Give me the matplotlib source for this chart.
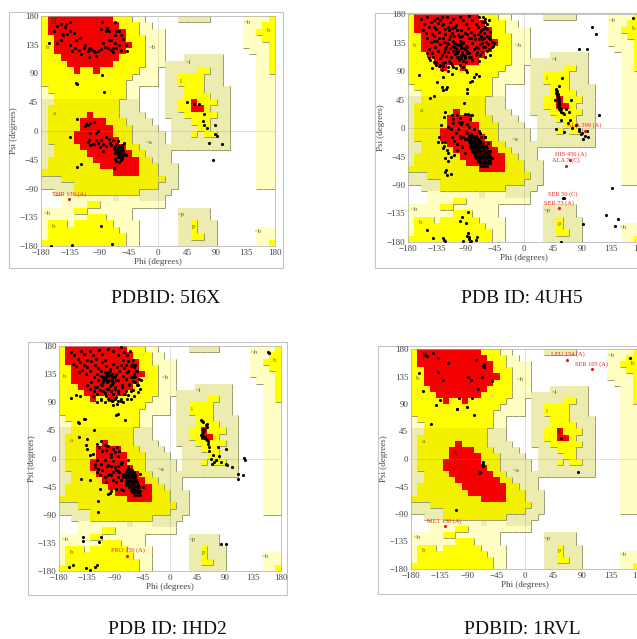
import matplotlib
matplotlib.use('Agg')
import matplotlib.pyplot as plt
import numpy as np
from matplotlib.collections import LineCollection
from matplotlib.colors import ListedColormap
from matplotlib.patches import Rectangle

plt.rcParams['font.family'] = ['Liberation Serif', 'DejaVu Sans']

# region map, 10 degree cells, top row is psi 170..180, left column is phi -180..-170
# . white, p pale, q dark pale, y yellow, z dark yellow, r red
region_rows = [
    "yrrrrrrrrrryyypp.....qqqqq.....ppppy",
    "yrrrrrrrrrrryyypp..............pppyy",
    "yrrrrrrrrrrrryypppp............ppyyy",
    "yyrrrrrrrrrrryyyppp............pppyy",
    "yyrrrrrrrrrrrryyppp............ppppy",
    "yyrrrrrrrrrrryyyppp.............pppy",
    "yyyrrrrrrrrryyyyppp...qqqqqq.....ppy",
    "yyyyrrrrrrryyyyypppqqqqqqqqq.....ppy",
    "yyyyyryyryyyyyyppp.qqqqqyyqq.....ppy",
    "yyyyyyyyyyyyyypppp.qqyyyyqqq.....ppp",
    "yyyyyyyyyyyyyppppp.qqyyyyqqq.....ppp",
    "pyyyyyyyyyyyypp....qqqyyyqqqq....ppp",
    "ppyyyyyyyyyyypp....qqqyyyyqqq....ppp",
    "qqzzzzzzzzzzqqq....qqyyryyyqq....ppp",
    "qzzzzzzzzzzzqqq....qqyyrryqqq....ppp",
    "qzzzzzzrzzzzqqqq...qqqyyyyyqq....ppp",
    "qzzzzzrrrrzzzqqqq...qqqyyyqqq....ppp",
    "qzzzzzrrrrrzzzqqqq..qqqqyyqqq....ppp",
    "qzzzzrrrrrrzzzqqqqq.qqqyqyyqq....ppp",
    "qzzzzrrrrrrrzzqqqqq.qqqqqqqqq....ppp",
    "qqzzzzrrrrrrrzzqqqqqqqqqqqqqq....ppp",
    "qqzzzzzrrrrrrrzzqqqq.............ppp",
    "qzzzzzzzrrrrrrrzzqqq.............ppp",
    "qzzzzzzzzrrrrrrzzzqqq............ppp",
    "zzzzzzzzzzzrrrrzzzqqq............ppp",
    "qqqzzzzzzzzzzzzzzzzqq............ppp",
    "qqqqqzzzzzzzzzzzzzqqq............ppp",
    "..qqqzzzzzzzzzzqqqqq................",
    "...ppppppppqpppqqqq.................",
    "...ppppyypppppppppp.................",
    "pppppyyppppppp.......qqqqq..........",
    "pppppppyyypppp.......qqqqq..........",
    "pyyypyyyyyypppp......qqyqqq.........",
    "pyyyyyyyyyyyppp......qqyqqq......ppp",
    "pyyyyyyyyyyyypp......qqyyqq......ppp",
    "yyyyyyyyyyyyypp......qqqqqq......ppy",
]
region_codes = '.pqyzr'
region_colors = ['#ffffff', '#ffffc4', '#ecebb0', '#ffff00', '#f3f000', '#f40000']
region_levels = {'.': 0, 'p': 1, 'q': 1, 'y': 2, 'z': 2, 'r': 3}

ticks = [-180, -135, -90, -45, 0, 45, 90, 135, 180]

# phi / psi
phi_5i6x = [-155,-150,-143,-160,-148,-141,-136,-140,-146,-150,-155,-136,-130,-126,-135,-133,-128,-122,-118,-114,-120,-112,-108,
            -106,-104,-101,-99,-97,-106,-93,-95,-88,-85,-81,-77,-73,-70,-66,-64,-60,-57,-54,-50,-48,-57,-66,-73,-76,-80,-78,-76,
            -88,-86,-66,-64,-60,-72,-69,-167,
            -126,-124,-83,-86,-124,-136,-119,-124,-68,-88,-133,-164,-71,
            -111,-108,-105,-112,-104,-98,-93,-96,-108,-100,-92,-88,-84,-80,-104,-106,-98,-96,-90,-85,-80,-76,-74,-70,-72,-68,-66,
            -64,-62,-60,-58,-56,-54,-52,-68,-66,-64,-62,-60,-58,-56,-54,-66,-64,-62,-60,-58,-56,-54,-64,-62,-60,-58,-56,-52,-60,
            -58,-56,-50,-66,-64,-60,-57,
            45,55,63,70,69,70,75,88,90,88,79,98,84,
            -62,-60,-58,-56,-61,-59,-57,-55,-60,-58,-56,-59,-57,-55,-58,-56]
psi_5i6x = [165,168,162,157,152,168,170,152,150,143,138,156,153,142,135,125,130,127,120,130,146,135,125,
            128,130,126,125,123,116,125,118,128,138,132,130,126,123,137,130,135,150,144,134,125,126,150,143,143,157,161,157,
            160,170,171,156,156,142,130,137,
            75,74,61,87,19,-10,-51,-57,-58,-148,-178,-180,-177,
            11,10,12,8,-3,14,0,-3,-17,-20,-18,-14,-20,-9,-22,-14,-20,-14,-25,-32,-24,-12,-18,-14,-22,-27,-35,
            -20,-16,-24,-28,-22,-32,-18,-28,-24,-32,-27,-34,-25,-30,-36,-28,-34,-39,-37,-33,-30,-38,-32,-41,-34,-30,-27,-36,-40,
            -38,-42,-37,-44,-47,-48,-46,
            46,43,42,26,16,10,4,9,-8,-4,-18,-21,-46,
            -30,-32,-30,-32,-35,-35,-35,-35,-38,-38,-38,-41,-41,-41,-33,-36]

points_4uh5 = [
    (-160,172),(-155,165),(-150,175),(-145,168),(-140,160),(-135,174),(-130,170),(-125,165),(-120,176),(-115,168),(-110,172),
    (-105,163),(-100,175),(-95,170),(-90,165),(-85,177),(-80,170),(-75,164),(-70,175),(-65,168),(-60,172),
    (-157,155),(-152,150),(-147,160),(-142,148),(-137,156),(-132,152),(-127,162),(-122,148),(-117,155),(-112,150),(-107,160),
    (-102,147),(-97,155),(-92,150),(-87,158),(-82,152),(-77,147),(-72,160),(-67,155),(-62,150),(-57,145),(-52,152),
    (-150,142),(-145,136),(-140,145),(-135,138),(-130,132),(-125,142),(-120,135),(-115,146),(-110,138),(-105,132),(-100,143),
    (-95,136),(-90,130),(-85,142),(-80,135),(-75,128),(-70,140),(-65,134),(-60,128),(-55,142),(-50,136),(-48,130),
    (-148,124),(-143,118),(-138,128),(-133,122),(-128,115),(-123,125),(-118,120),(-113,112),(-108,128),(-103,122),(-98,116),
    (-93,126),(-88,118),(-83,112),(-78,124),(-73,120),(-68,115),(-63,128),(-58,122),(-53,115),(-49,128),(-46,134),
    (-146,108),(-141,112),(-136,105),(-131,110),(-126,103),(-121,114),(-116,106),(-111,100),(-108,128),(-106,122),(-104,118),
    (-102,112),(-100,132),(-98,126),(-96,120),(-94,115),(-92,110),(-90,105),(-85,112),(-80,108),(-75,115),(-70,106),(-65,120),
    (-60,112),(-55,125),(-142,95),(-137,100),(-132,98),(-127,92),(-122,105),(-118,97),(-114,102),(-110,96),(-105,94),(-100,100),
    (-95,96),(-90,92),(-88,88),(-150,118),(-148,110),(-140,105),(-130,100),(-125,98),
    # thick part of the beta cloud
    (-112,130),(-109,134),(-106,127),(-103,131),(-100,137),(-97,130),(-94,134),(-91,124),(-88,128),(-110,122),(-107,117),
    (-104,112),(-101,108),(-98,110),(-95,106),(-92,114),(-89,122),(-86,118),(-115,127),(-118,133),(-121,128),(-124,120),
    (-72,148),(-69,152),(-66,146),(-63,156),(-60,160),(-57,156),(-54,146),(-62,142),(-59,136),(-56,132),(-52,140),(-65,140),
    (-68,133),(-71,127),(-61,168),(-58,165),(-55,170),(-64,175),(-140,170),(-128,176),(-118,160),(-112,158),(-104,154),(-96,146),
    (-88,148),(-82,142),(-76,140),(-134,166),(-122,156),(-140,138),(-132,142),(-124,136),(-116,141),(-108,146),
    (-163,84),(-125,80),(-118,90),(-112,86),(-135,72),(-128,65),(-125,60),(-121,62),(-119,64),(-146,47),(-140,50),(-122,25),
    (-111,21),(-101,10),(-87,22),(-82,20),(-78,80),(-80,75),(-84,72),(-88,62),(-75,85),(-70,82),(-88,55),(-93,40),
    (-124,18),(-129,5),(-132,-14),(-133,-22),(-128,-22),(-123,-22),(-124,-29),(-126,-32),(-119,-34),(-118,-39),(-122,-48),
    (-114,-46),(-118,-52),(-108,-43),(-122,-70),(-119,-74),(-121,-66),(-113,-72),
    (-110,14),(-104,20),(-100,16),(-96,10),(-92,22),(-88,6),(-84,14),(-80,20),(-118,2),(-114,-2),(-110,8),(-106,-8),(-102,-2),
    (-98,6),(-94,-14),(-90,-6),(-86,2),(-82,-10),(-78,-2),(-74,-12),(-70,-4),(-66,-14),(-112,-14),(-108,-20),(-104,-26),
    (-100,-16),(-96,-30),(-92,-18),(-88,-8),(-84,-20),(-80,-14),(-76,-26),(-72,-18),(-68,-8),(-64,-30),(-60,-14),(-56,-24),
    (-104,-34),(-100,-12),(-96,-28),(-92,-40),(-88,-18),(-84,-30),(-80,-36),(-76,-26),(-72,-34),(-68,-20),(-64,-44),(-60,-14),
    # solid part of the alpha cloud
    (-85,-12),(-81,-12),(-77,-12),(-86,-16),(-82,-16),(-78,-16),(-74,-16),(-85,-20),(-81,-20),(-77,-20),(-73,-20),(-69,-20),
    (-84,-24),(-80,-24),(-76,-24),(-72,-24),(-68,-24),(-64,-24),(-83,-28),(-79,-28),(-75,-28),(-71,-28),(-67,-28),(-63,-28),(-59,-28),
    (-82,-32),(-78,-32),(-74,-32),(-70,-32),(-66,-32),(-62,-32),(-58,-32),(-80,-36),(-76,-36),(-72,-36),(-68,-36),(-64,-36),(-60,-36),
    (-56,-36),(-52,-36),(-78,-40),(-74,-40),(-70,-40),(-66,-40),(-62,-40),(-58,-40),(-54,-40),(-76,-44),(-72,-44),(-68,-44),(-64,-44),
    (-60,-44),(-56,-44),(-52,-44),(-74,-48),(-70,-48),(-66,-48),(-62,-48),(-58,-48),(-54,-48),(-50,-48),(-72,-52),(-68,-52),(-64,-52),
    (-60,-52),(-56,-52),(-52,-52),(-68,-56),(-64,-56),(-60,-56),(-56,-56),(-52,-56),(-66,-60),(-62,-60),(-58,-60),
    (-87,-133),(-96,-140),(-99,-147),(-150,-161),(-141,-173),(-126,-173),(-124,-177),(-122,-179),(-87,-165),(-85,-172),
    (-83,-178),(-88,-170),(-86,-176),(-84,-180),(-90,-150),(-75,-177),(-73,-172),(-95,-178),
    (50,62),(51,58),(52,54),(53,50),(54,46),(55,42),(53,38),(52,34),(54,30),(56,28),(58,26),(60,24),(62,22),(55,66),(65,30),(70,26),
    (49,60),(50,56),(51,52),(52,48),(53,44),(54,40),(55,36),(56,32),(57,30),
    (48,44),(58,12),(68,8),(72,12),(50,-2),(62,-6),(75,0),(80,4),(85,-4),(88,-10),(90,-8),(95,-12),(100,-14),(98,-4),(92,-18),(85,-2),
    (59,79),(73,45),(169,173),(106,159),(112,149),(85,124),(98,125),(116,20),(137,-94),(128,-137),(146,-143),(141,-154),(91,-152),
    (60,-111),(62,-110),(58,-180),
]

points_1hd2 = [
    (-160,170),(-155,165),(-150,160),(-145,172),(-140,168),(-135,158),(-130,172),(-125,165),(-120,160),(-115,174),(-110,168),
    (-105,158),(-100,175),(-92,172),(-85,165),(-80,178),(-75,170),(-70,165),(-65,172),
    (-158,152),(-152,148),(-146,155),(-140,150),(-134,146),(-128,156),(-122,150),(-116,145),(-110,154),(-104,148),(-98,143),
    (-92,152),(-86,146),(-80,150),(-74,145),(-68,140),(-62,152),(-58,146),(-55,140),
    (-148,138),(-142,142),(-136,135),(-130,140),(-124,130),(-118,136),(-112,140),(-106,132),(-100,138),(-94,130),(-88,136),
    (-82,140),(-76,132),(-70,138),(-64,130),(-58,136),(-54,140),(-50,128),
    (-135,118),(-128,122),(-122,115),(-116,125),(-112,120),(-108,130),(-105,128),(-102,122),(-100,132),(-98,125),(-96,118),
    (-94,128),(-92,122),(-90,115),(-84,125),(-78,118),(-72,128),(-66,120),(-60,130),(-56,122),(-52,118),(-47,125),
    (-130,112),(-124,108),(-118,115),(-114,110),(-110,118),(-106,105),(-102,112),(-100,124),(-98,116),(-96,108),(-94,120),
    (-90,112),(-84,105),(-78,115),(-72,108),(-66,118),(-60,110),(-54,118),(-49,112),
    (-125,100),(-118,104),(-112,96),(-108,108),(-104,100),(-100,112),(-96,94),(-92,104),(-88,98),(-84,108),(-80,92),(-74,104),
    (-70,96),(-64,108),(-58,100),(-52,106),(-118,90),(-112,94),(-106,90),(-100,96),(-94,92),(-92,86),(-90,95),(-86,88),(-84,92),
    (-80,96),(-76,90),(-68,102),(-63,96),
    # thick part of the beta cloud
    (-112,132),(-109,126),(-106,138),(-103,130),(-100,126),(-97,134),(-94,124),(-91,130),(-88,126),(-108,122),(-104,126),(-102,136),
    (-98,140),(-94,136),(-90,132),(-60,158),(-56,150),(-64,148),(-68,156),(-72,150),(-76,158),(-56,130),(-60,124),
    (-161,97),(-153,102),(-146,100),(-87,70),(-85,72),(-73,62),(-140,64),(-138,63),(-149,59),(-147,57),(-123,46),(-148,34),
    (-134,31),(-137,22),(-135,15),(-130,6),(-145,-33),(-129,-34),(-117,-68),(-116,-86),(-113,-49),(-100,-57),(-98,-55),
    (-141,-125),(-141,-132),(-112,-126),(-115,-133),(-164,-174),(-157,-171),(-137,-175),(-130,-178),(-122,-173),(-119,-170),
    (159,171),(161,169),
    (-118,24),(-115,18),(-112,28),(-110,12),(-106,22),(-103,14),(-100,20),(-96,8),(-92,16),(-90,10),(-86,18),(-82,12),
    (-125,8),(-122,-8),(-119,-2),(-116,-16),(-112,-8),(-110,-18),(-106,-2),(-102,-12),(-98,-24),(-95,2),(-90,-14),(-85,4),
    (-82,-22),(-78,-6),(-122,-14),(-118,-22),(-114,-26),(-110,-18),(-106,-30),(-100,-10),(-96,-26),(-92,-4),(-88,-18),(-84,-30),
    (-80,-8),(-76,-24),(-72,-38),(-68,-2),(-64,-16),(-104,-38),(-100,-26),(-96,-12),(-92,-34),(-88,-48),(-84,-20),(-80,-6),
    (-76,-30),(-72,-42),(-68,-14),(-64,-26),(-60,-36),(-96,-52),(-92,-22),(-88,-38),(-84,-12),(-80,-48),(-76,-28),(-72,-40),
    # solid part of the alpha cloud
    (-70,-18),(-66,-18),(-62,-18),(-71,-22),(-67,-22),(-63,-22),(-59,-22),(-72,-26),(-68,-26),(-64,-26),(-60,-26),(-56,-26),
    (-72,-30),(-68,-30),(-64,-30),(-60,-30),(-56,-30),(-71,-34),(-67,-34),(-63,-34),(-59,-34),(-55,-34),(-70,-38),(-66,-38),(-62,-38),
    (-58,-38),(-54,-38),(-68,-42),(-64,-42),(-60,-42),(-56,-42),(-52,-42),(-66,-46),(-62,-46),(-58,-46),(-54,-46),(-50,-46),
    (-64,-50),(-60,-50),(-56,-50),(-52,-50),(-62,-54),(-58,-54),(-54,-54),(-50,-54),(-58,-58),(-54,-58),
    (-76,-50),(-80,-34),(-48,-52),(-48,-24),(-44,-46),(-48,-58),
    (50,62),(52,60),(54,58),(58,54),(60,50),(55,46),(53,42),(52,38),(54,36),(56,34),(58,32),(60,30),(62,28),(52,35),(56,33),
    (50,38),(54,48),(60,56),(62,24),(63,18),(64,12),(78,18),(90,15),(70,6),(75,-2),(80,4),(72,-6),(66,0),(68,-8),(74,-2),(82,-6),
    (90,-8),(92,-10),(100,-13),(120,1),(122,-2),(111,-24),(111,-32),(118,-27),(82,-137),(90,-137),
]

points_5i6x = np.column_stack([phi_5i6x, psi_5i6x])
points_4uh5 = np.array(points_4uh5)
points_1hd2 = np.array(points_1hd2)

phi_1rvl = [-158,-155,-145,-138,-122,-77,-65,-66,-65,-167,-137,-130,-161,-90,-85,-75,-68,-52,-135,
            -104,-141,-108,-108,-92,-84,-81,-148,-66,-66,-68,-67,-71,-109,57,84,165,-72]
psi_1rvl = [170,168,173,166,157,162,155,152,150,141,143,130,112,135,130,114,135,128,97,
            100,88,82,82,85,100,72,57,-5,-8,-10,-12,-22,-84,35,-22,166,-23]
points_1rvl = np.column_stack([phi_1rvl, psi_1rvl])

flagged_phi = {'5I6X': [-137], '4UH5': [94, 72, 65, 54], '1HD2': [-69], '1RVL': [67, 105, -127]}
flagged_psi = {'5I6X': [-107], '4UH5': [-4, -51, -60, -127], '1HD2': [-156], '1RVL': [162, 147, -110]}
flagged_names = {'5I6X': ['THR 139 (A)'],
                 '4UH5': ['ALA 399 (A)', 'HIS 456 (A)', 'ALA 7 (C)', 'SER 73 (A)'],
                 '1HD2': ['PRO 350 (A)'],
                 '1RVL': ['LEU 154 (A)', 'SER 105 (A)', 'MET 130 (A)']}
extra_names = {'4UH5': [('SER 50 (C)', 60, -105)]}

# small region letters, (text, phi, psi)
region_letters = [('b', -170, 131), ('a', -160, 28), ('~b', -8, 130), ('~l', 47, 108), ('l', 35, 78),
                  ('~a', -14, -18), ('~p', 36, -130), ('p', 55, -150), ('~b', -170, -129), ('b', -160, -150),
                  ('~b', 137, 170), ('b', 170, 157), ('~b', 155, -157)]
core_letters = {'5I6X': [('B', -160, 170)],
                '1RVL': [('B', -158, 168), ('A', -110, 9), ('L', 54, 45)]}

captions = ['PDBID: 5I6X', 'PDB ID: 4UH5', 'PDB ID: IHD2', 'PDBID: 1RVL']
caption_x = [166, 522, 167, 522]
caption_y = [298, 298, 630, 630]

W, H = 637, 639
fig = plt.figure(figsize=(W / 100, H / 100), dpi=100)

grid = np.array([[region_codes.index(c) for c in row] for row in region_rows])
phi_edges = np.arange(-180, 181, 10)
psi_edges = np.arange(180, -181, -10)
cmap = ListedColormap(region_colors)


def px_axes(x0, y0, x1, y1):
    return fig.add_axes([x0 / W, 1 - y1 / H, (x1 - x0) / W, (y1 - y0) / H])


def shadow_lines():
    segs = []
    for j, row in enumerate(region_rows):
        for i, c in enumerate(row):
            lv = region_levels[c]
            if lv == 0 or lv == 3:
                continue
            x = phi_edges[i]
            y = psi_edges[j]
            if i < 35 and region_levels[row[i + 1]] < lv:
                segs.append([(x + 10, y), (x + 10, y - 10)])
            if j < 35 and region_levels[region_rows[j + 1][i]] < lv:
                segs.append([(x, y - 10), (x + 10, y - 10)])
    return segs


def panel(name, box, frame, pts):
    fig.add_artist(Rectangle((frame[0] / W, 1 - frame[3] / H), (frame[2] - frame[0]) / W,
                             (frame[3] - frame[1]) / H, transform=fig.transFigure,
                             facecolor='white', edgecolor='#c4c4c4', linewidth=0.8, zorder=-1))
    ax = px_axes(*box)
    ax.patch.set_alpha(0)
    ax.pcolormesh(phi_edges, psi_edges, grid, cmap=cmap, vmin=0, vmax=5)
    ax.add_collection(LineCollection(shadow_lines(), colors='#9a9a70', linewidths=0.7))
    ax.axhline(0, color='#888888', lw=0.5, alpha=0.35)
    ax.axvline(0, color='#888888', lw=0.5, alpha=0.35)
    for t, a, b in region_letters:
        ax.text(a, b, t, fontsize=5, color='#666633', ha='center', va='center')
    for t, a, b in core_letters.get(name, []):
        ax.text(a, b, t, fontsize=6, color='#552200', ha='center', va='center')
    ax.scatter(pts[:, 0], pts[:, 1], s=5, c='black', linewidths=0, zorder=4)
    ax.scatter(flagged_phi[name], flagged_psi[name], s=5, c='#e8141c', linewidths=0, zorder=5)
    for n, a, b in zip(flagged_names[name], flagged_phi[name], flagged_psi[name]):
        ax.text(a, b + 9, n, fontsize=4.6, color='#ee2222', ha='center', va='center', zorder=6)
    for n, a, b in extra_names.get(name, []):
        ax.text(a, b, n, fontsize=4.6, color='#ee2222', ha='center', va='center', zorder=6)
    ax.set_xlim(-180, 180)
    ax.set_ylim(-180, 180)
    ax.set_xticks(ticks)
    ax.set_yticks(ticks)
    ax.tick_params(length=0, labelsize=6.5, labelcolor='#444444', pad=2)
    ax.set_xlabel('Phi (degrees)', fontsize=6.5, color='#444444', labelpad=1)
    ax.set_ylabel('Psi (degrees)', fontsize=6.5, color='#444444', labelpad=1)
    for s in ax.spines.values():
        s.set_color('#aaaaaa')
        s.set_linewidth(0.5)
    return ax


panel('5I6X', (41, 16, 275, 246), (9, 12, 283, 268), points_5i6x)
panel('4UH5', (408, 14, 640, 242), (375, 13, 650, 268), points_4uh5)
panel('1HD2', (59, 346, 281, 571), (28, 342, 287, 595), points_1hd2)
panel('1RVL', (411, 349, 639, 569), (378, 346, 650, 594), points_1rvl)

for c, x, y in zip(captions, caption_x, caption_y):
    fig.text(x / W, 1 - y / H, c, fontsize=14, color='#111111', ha='center', va='center')

fig.savefig('out.png', dpi=100)
